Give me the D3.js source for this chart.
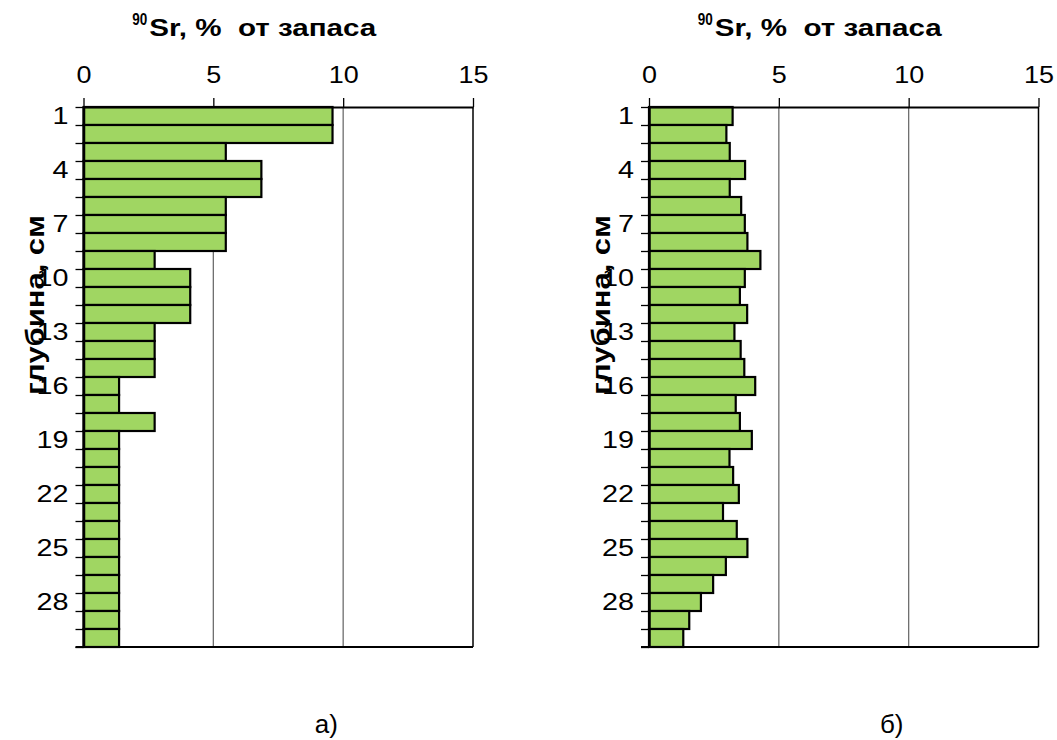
<!DOCTYPE html>
<html>
<head>
<meta charset="utf-8">
<script src="https://cdn.jsdelivr.net/npm/d3@7"></script>
<style>
  body { margin: 0; background: #fff; }
  text { font-family: "Liberation Sans", Arial, sans-serif; fill: #000; }
</style>
</head>
<body>
<div id="chart"></div>
<script>
const depths = [1, 2, 3, 4, 5, 6, 7, 8, 9, 10, 11, 12, 13, 14, 15,
  16, 17, 18, 19, 20, 21, 22, 23, 24, 25, 26, 27, 28, 29, 30];
const depthLabels = [1, 4, 7, 10, 13, 16, 19, 22, 25, 28];
const xTicks = [0, 5, 10, 15];

// % of stock per 1 cm layer
const valuesA = [9.59, 9.59, 5.48, 6.85, 6.85, 5.48, 5.48, 5.48, 2.74, 4.11,
  4.11, 4.11, 2.74, 2.74, 2.74, 1.37, 1.37, 2.74, 1.37, 1.37,
  1.37, 1.37, 1.37, 1.37, 1.37, 1.37, 1.37, 1.37, 1.37, 1.37];
const valuesB = [3.22, 2.98, 3.11, 3.70, 3.11, 3.55, 3.69, 3.79, 4.29, 3.69,
  3.50, 3.78, 3.29, 3.53, 3.67, 4.09, 3.34, 3.50, 3.96, 3.10,
  3.24, 3.46, 2.85, 3.38, 3.79, 2.96, 2.47, 2.00, 1.55, 1.32];

const panels = [
  { values: valuesA, ox: 0, tag: "а)" },
  { values: valuesB, ox: 565.5, tag: "б)" }
];

const canvas = { w: 1057, h: 740 };
const plot = { left: 83.5, right: 473, top: 107, bottom: 647 };

const svg = d3.select("#chart")
  .append("svg")
  .attr("width", canvas.w)
  .attr("height", canvas.h)
  .attr("viewBox", `0 0 ${canvas.w} ${canvas.h}`)
  .style("background-color", "#fff");

const x = d3.scaleLinear().domain([0, 15]).range([plot.left, plot.right]);
const y = d3.scaleBand().domain(depths).range([plot.top, plot.bottom]).padding(0);
const yEdge = d3.scaleLinear().domain([0, depths.length]).range([plot.top, plot.bottom]);

panels.forEach(p => {
  const g = svg.append("g").attr("transform", `translate(${p.ox},0)`);

  // gridlines
  g.append("g")
    .selectAll("line")
    .data([5, 10])
    .enter()
    .append("line")
    .attr("x1", d => x(d))
    .attr("x2", d => x(d))
    .attr("y1", plot.top)
    .attr("y2", plot.bottom)
    .attr("stroke", "#6e6e6e")
    .attr("stroke-width", 1.3);

  // bars
  g.append("g")
    .selectAll("rect")
    .data(p.values)
    .enter()
    .append("rect")
    .attr("x", x(0))
    .attr("y", (d, i) => y(depths[i]))
    .attr("width", d => x(d) - x(0))
    .attr("height", y.bandwidth())
    .attr("fill", "#a0d662")
    .attr("stroke", "#000")
    .attr("stroke-width", 2.2);

  // right border
  g.append("line")
    .attr("x1", x(15)).attr("x2", x(15))
    .attr("y1", plot.top).attr("y2", plot.bottom)
    .attr("stroke", "#000")
    .attr("stroke-width", 1.5);

  // bottom line
  g.append("line")
    .attr("x1", plot.left - 8).attr("x2", x(15))
    .attr("y1", plot.bottom).attr("y2", plot.bottom)
    .attr("stroke", "#000")
    .attr("stroke-width", 2);

  // top axis
  const xAxis = g.append("g")
    .attr("transform", `translate(0,${plot.top})`)
    .call(d3.axisTop(x).tickValues(xTicks).tickSize(9).tickSizeOuter(0).tickPadding(15));
  xAxis.select(".domain").attr("stroke", "#000").attr("stroke-width", 2);
  xAxis.selectAll(".tick line").attr("stroke", "#000").attr("stroke-width", 1.3);
  xAxis.selectAll("text")
    .attr("font-size", 24)
    .attr("font-family", "Liberation Sans, Arial, sans-serif")
    .attr("textLength", d => String(d).length * 15)
    .attr("lengthAdjust", "spacingAndGlyphs");

  // left axis: tick marks between layers
  const yTicks = g.append("g")
    .attr("transform", `translate(${plot.left},0)`)
    .call(d3.axisLeft(yEdge).tickValues(d3.range(depths.length + 1)).tickSize(8).tickSizeOuter(0).tickFormat(""));
  yTicks.select(".domain").attr("stroke", "#000").attr("stroke-width", 2.5);
  yTicks.selectAll(".tick line").attr("stroke", "#000").attr("stroke-width", 1.3);

  // left axis: depth labels
  const yLabels = g.append("g")
    .attr("transform", `translate(${plot.left},0)`)
    .call(d3.axisLeft(y).tickValues(depthLabels).tickSize(0).tickPadding(15));
  yLabels.select(".domain").remove();
  yLabels.selectAll("text")
    .attr("font-size", 24)
    .attr("font-family", "Liberation Sans, Arial, sans-serif")
    .attr("textLength", d => String(d).length * 16)
    .attr("lengthAdjust", "spacingAndGlyphs");

  // title
  const cx = (plot.left + plot.right) / 2 - 23;
  g.append("text")
    .attr("x", cx - 123)
    .attr("y", 25)
    .attr("font-size", 16)
    .attr("font-weight", "bold")
    .attr("textLength", 15)
    .attr("lengthAdjust", "spacingAndGlyphs")
    .text("90");
  g.append("text")
    .attr("x", cx - 106)
    .attr("y", 36)
    .attr("font-size", 23)
    .attr("font-weight", "bold")
    .attr("textLength", 227)
    .attr("lengthAdjust", "spacingAndGlyphs")
    .attr("xml:space", "preserve")
    .text("Sr, %  от запаса");

  // y axis title
  g.append("text")
    .attr("transform", "translate(44,305) rotate(-90)")
    .attr("text-anchor", "middle")
    .attr("font-size", 25)
    .attr("font-weight", "bold")
    .attr("textLength", 180)
    .attr("lengthAdjust", "spacingAndGlyphs")
    .text("глубина, см");

  // panel tag
  g.append("text")
    .attr("x", cx + 71)
    .attr("y", 733)
    .attr("text-anchor", "middle")
    .attr("font-family", "Liberation Serif, Times New Roman, serif")
    .attr("font-size", 26)
    .text(p.tag);
});
</script>
</body>
</html>
